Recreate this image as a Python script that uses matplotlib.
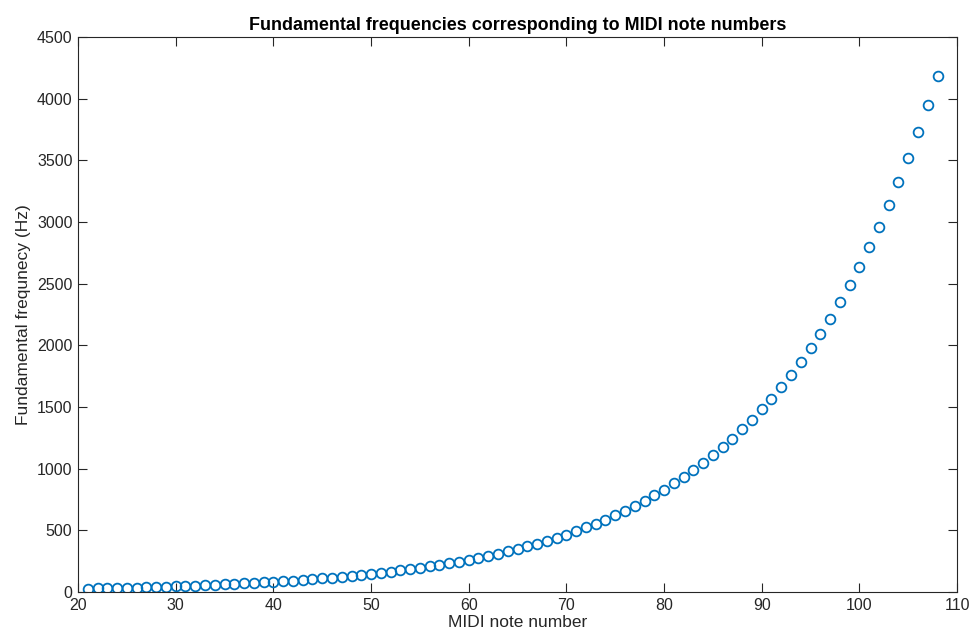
import numpy as np
import matplotlib.pyplot as plt

plt.rcParams['font.family'] = ['Liberation Sans', 'DejaVu Sans']

# MIDI note numbers 21..108 (piano range)
notas = np.arange(21, 109)

# frecuencias fundamentales (Hz)
frecuencias = [
    27.50, 29.14, 30.87, 32.70, 34.65, 36.71, 38.89, 41.20, 43.65, 46.25,
    49.00, 51.91, 55.00, 58.27, 61.74, 65.41, 69.30, 73.42, 77.78, 82.41,
    87.31, 92.50, 98.00, 103.83, 110.00, 116.54, 123.47, 130.81, 138.59, 146.83,
    155.56, 164.81, 174.61, 185.00, 196.00, 207.65, 220.00, 233.08, 246.94, 261.63,
    277.18, 293.66, 311.13, 329.63, 349.23, 369.99, 392.00, 415.30, 440.00, 466.16,
    493.88, 523.25, 554.37, 587.33, 622.25, 659.26, 698.46, 739.99, 783.99, 830.61,
    880.00, 932.33, 987.77, 1046.50, 1108.73, 1174.66, 1244.51, 1318.51, 1396.91, 1479.98,
    1567.98, 1661.22, 1760.00, 1864.66, 1975.53, 2093.00, 2217.46, 2349.32, 2489.02, 2637.02,
    2793.83, 2959.96, 3135.96, 3322.44, 3520.00, 3729.31, 3951.07, 4186.01,
]

x_ticks = [20, 30, 40, 50, 60, 70, 80, 90, 100, 110]
y_ticks = [0, 500, 1000, 1500, 2000, 2500, 3000, 3500, 4000, 4500]

gris = '#262626'

fig = plt.figure(figsize=(9.73, 6.44), dpi=100)
ax = fig.add_axes([0.0802, 0.0807, 0.9034, 0.8618])

ax.plot(notas, frecuencias, linestyle='none', marker='o', markersize=7,
        markerfacecolor='none', markeredgecolor='#0072BD', markeredgewidth=1.3)

ax.set_xlim(20, 110)
ax.set_ylim(0, 4500)
ax.set_xticks(x_ticks)
ax.set_yticks(y_ticks)

ax.tick_params(direction='in', length=6.5, width=0.8, colors=gris,
               labelsize=11.5, top=True, right=True, pad=4)
for s in ax.spines.values():
    s.set_color(gris)
    s.set_linewidth(0.8)

ax.set_xlabel('MIDI note number', fontsize=12.5, color=gris, labelpad=2)
ax.set_ylabel('Fundamental frequnecy (Hz)', fontsize=12.5, color=gris, labelpad=4)
ax.set_title('Fundamental frequencies corresponding to MIDI note numbers',
             fontsize=12.9, fontweight='bold', pad=5)

fig.savefig('out.png', dpi=100)
